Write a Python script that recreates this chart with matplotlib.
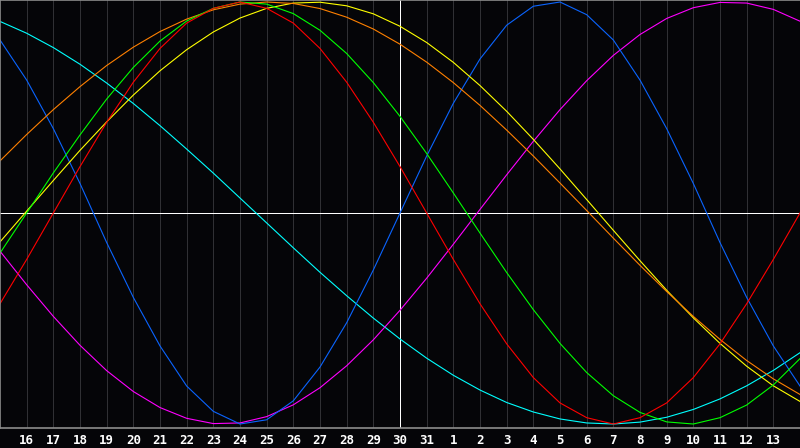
import matplotlib
matplotlib.use('Agg')
import matplotlib.pyplot as plt

# day labels shown under the gridlines (today = 30)
dias = ['16', '17', '18', '19', '20', '21', '22', '23', '24', '25', '26', '27', '28', '29', '30',
        '31', '1', '2', '3', '4', '5', '6', '7', '8', '9', '10', '11', '12', '13']
pos_dias = list(range(1, 30))
pontos = list(range(0, 31))   # one value per day, 15 days each side of today

# values, one per day (-1 .. 1)
fisico = [0.82, 0.63, 0.40, 0.14, -0.14, -0.40, -0.63, -0.82, -0.94, -1.00, -0.98, -0.89, -0.73,
          -0.52, -0.27, 0.00, 0.27, 0.52, 0.73, 0.89, 0.98, 1.00, 0.94, 0.82, 0.63, 0.40, 0.14,
          -0.14, -0.40, -0.63, -0.82]
emocional = [-0.43, -0.22, 0.00, 0.22, 0.43, 0.62, 0.78, 0.90, 0.97, 1.00, 0.97, 0.90, 0.78,
             0.62, 0.43, 0.22, 0.00, -0.22, -0.43, -0.62, -0.78, -0.90, -0.97, -1.00, -0.97,
             -0.90, -0.78, -0.62, -0.43, -0.22, 0.00]
intelectual = [-0.19, 0.00, 0.19, 0.37, 0.54, 0.69, 0.815, 0.91, 0.97, 1.00, 0.99, 0.945, 0.866,
               0.756, 0.618, 0.458, 0.282, 0.095, -0.095, -0.282, -0.458, -0.618, -0.756, -0.866,
               -0.945, -0.99, -1.00, -0.97, -0.91, -0.815, -0.69]
intuitivo = [-0.181, -0.340, -0.490, -0.627, -0.747, -0.846, -0.922, -0.973, -0.998, -0.995,
             -0.965, -0.909, -0.828, -0.724, -0.601, -0.461, -0.309, -0.148, 0.017, 0.181, 0.340,
             0.490, 0.627, 0.747, 0.846, 0.922, 0.973, 0.998, 0.995, 0.965, 0.909]
espiritual = [0.908, 0.852, 0.784, 0.705, 0.616, 0.519, 0.414, 0.303, 0.189, 0.071, -0.047,
              -0.165, -0.281, -0.392, -0.498, -0.597, -0.688, -0.769, -0.839, -0.898, -0.943,
              -0.976, -0.995, -1.000, -0.991, -0.968, -0.931, -0.881, -0.819, -0.746, -0.662]
consciencia = [0.247, 0.372, 0.490, 0.599, 0.699, 0.786, 0.860, 0.919, 0.963, 0.990, 1.000, 0.993,
               0.969, 0.928, 0.872, 0.800, 0.715, 0.618, 0.510, 0.393, 0.270, 0.142, 0.012,
               -0.119, -0.248, -0.372, -0.490, -0.599, -0.699, -0.786, -0.860]
estetico = [-0.137, 0.009, 0.154, 0.297, 0.432, 0.559, 0.674, 0.774, 0.858, 0.924, 0.970, 0.995,
            0.999, 0.982, 0.944, 0.885, 0.808, 0.714, 0.604, 0.482, 0.349, 0.209, 0.064, -0.082,
            -0.226, -0.366, -0.497, -0.618, -0.726, -0.819, -0.893]

series = [
    (espiritual, '#00ffff'),
    (intuitivo, '#ff00ff'),
    (fisico, '#0a64ff'),
    (estetico, '#ffff00'),
    (consciencia, '#ff8000'),
    (intelectual, '#00ff00'),
    (emocional, '#ff0000'),
]

fig = plt.figure(figsize=(8, 4.48), dpi=100, facecolor='#050508')
ax = fig.add_axes([0, 20 / 448, 1, 428 / 448])
ax.set_facecolor('#050508')
ax.set_xlim(0, 30)
ax.set_ylim(-1.0189, 1.0095)

for d in pos_dias:
    cor = 'white' if d == 15 else '#303034'
    ax.axvline(d, color=cor, linewidth=0.72, zorder=1)
ax.axhline(0, color='white', linewidth=0.72, zorder=1)

for valores, cor in series:
    ax.plot(pontos, valores, color=cor, linewidth=0.8, zorder=2)

ax.set_xticks(pos_dias)
ax.set_xticklabels(dias, color='white', fontsize=9, fontweight='bold', family='DejaVu Sans Mono')
ax.tick_params(axis='x', length=0, pad=4)
ax.set_yticks([])

for lado in ['left', 'top', 'bottom']:
    ax.spines[lado].set_color('#8c8c8c')
    ax.spines[lado].set_linewidth(1.2)
ax.spines['right'].set_visible(False)

plt.savefig('out.png', dpi=100, facecolor='#050508')
